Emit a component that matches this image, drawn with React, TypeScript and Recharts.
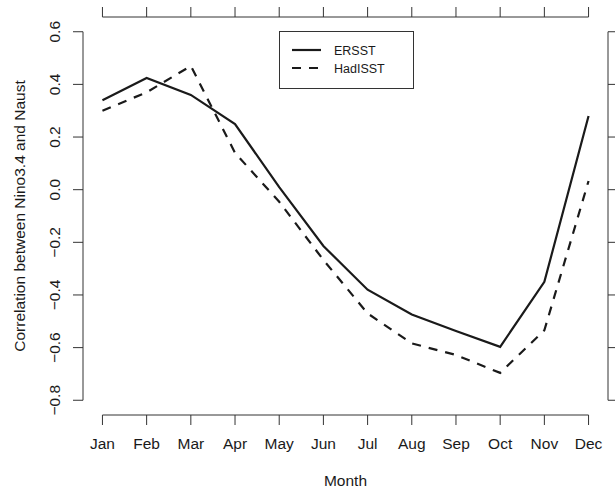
import { Legend, Line, LineChart, ReferenceLine, XAxis, YAxis } from "recharts";

const MONTHS = ["Jan", "Feb", "Mar", "Apr", "May", "Jun", "Jul", "Aug", "Sep", "Oct", "Nov", "Dec"];
const MONTH_NUM = [1, 2, 3, 4, 5, 6, 7, 8, 9, 10, 11, 12];
const ERSST = [0.34, 0.424, 0.36, 0.249, 0.01, -0.214, -0.38, -0.474, -0.537, -0.597, -0.35, 0.28];
const HADISST = [0.3, 0.37, 0.47, 0.14, -0.046, -0.267, -0.47, -0.584, -0.628, -0.696, -0.534, 0.033];
const Y_TICKS = [-0.8, -0.6, -0.4, -0.2, 0, 0.2, 0.4, 0.6];

// R-style 4% padding around xlim = c(1, 12), ylim = c(-0.8, 0.6)
const X_DOMAIN: [number, number] = [0.56, 12.44];
const Y_DOMAIN: [number, number] = [-0.856, 0.656];

const INK = "#1a1a1a";
const AXIS = "#333";
const FONT = "'Liberation Sans', Arial, Helvetica, sans-serif";

const data = MONTH_NUM.map((m, i) => ({ m, ersst: ERSST[i], hadisst: HADISST[i] }));

const fmtY = (v: number) => v.toFixed(1).replace("-", "\u2212");

function XTick({ x, y, payload }: any) {
  return (
    <text x={x} y={y + 24} textAnchor="middle" fontSize={15.5} fill={INK} fontFamily={FONT}>
      {MONTHS[payload.value - 1]}
    </text>
  );
}

function YTick({ x, y, payload }: any) {
  const bx = x - 12.5;
  return (
    <text
      x={bx}
      y={y}
      transform={`rotate(-90, ${bx}, ${y})`}
      textAnchor="middle"
      fontSize={15.5}
      fill={INK}
      fontFamily={FONT}
    >
      {fmtY(payload.value)}
    </text>
  );
}

// top/right axes: tick marks only, no labels
function NoLabel() {
  return <g />;
}

function LegendBox({ payload }: any) {
  return (
    <div
      style={{
        width: 135,
        height: 58,
        boxSizing: "border-box",
        border: `1px solid ${AXIS}`,
        background: "#fff",
        fontFamily: FONT,
      }}
    >
      <svg width={133} height={56} style={{ display: "block" }}>
        {(payload ?? []).map((p: any, i: number) => (
          <g key={p.value}>
            <line
              x1={12}
              x2={41}
              y1={18 + i * 18}
              y2={18 + i * 18}
              stroke={INK}
              strokeWidth={2.2}
              strokeDasharray={p.payload?.strokeDasharray}
            />
            <text x={54} y={22.5 + i * 18} fontSize={12.5} fill={INK}>
              {p.value}
            </text>
          </g>
        ))}
      </svg>
    </div>
  );
}

export default function App() {
  return (
    <div style={{ position: "absolute", left: 0, top: 0, width: 615, height: 488, background: "#fff" }}>
      <LineChart width={615} height={488} data={data} margin={{ top: 16, right: 0, bottom: 0, left: 0 }}>
        <XAxis
          dataKey="m"
          type="number"
          domain={X_DOMAIN}
          ticks={MONTH_NUM}
          axisLine={false}
          tickLine={{ stroke: AXIS }}
          tickSize={10}
          tickMargin={0}
          tick={<XTick />}
          height={73}
          label={{
            content: (p: any) => {
              const vb = p.viewBox;
              return (
                <text x={vb.x + vb.width / 2} y={vb.y + vb.height - 2} textAnchor="middle" fontSize={15.5} fill={INK} fontFamily={FONT}>
                  Month
                </text>
              );
            },
          }}
        />
        <XAxis
          xAxisId="top"
          orientation="top"
          dataKey="m"
          type="number"
          domain={X_DOMAIN}
          ticks={MONTH_NUM}
          axisLine={false}
          tickLine={{ stroke: AXIS }}
          tickSize={10}
          tick={<NoLabel />}
          height={1}
        />
        <YAxis
          type="number"
          domain={Y_DOMAIN}
          ticks={Y_TICKS}
          axisLine={false}
          tickLine={{ stroke: AXIS }}
          tickSize={10}
          tickMargin={0}
          tick={<YTick />}
          width={83}
          label={{
            content: (p: any) => {
              const vb = p.viewBox;
              const cy = vb.y + vb.height / 2;
              return (
                <text x={25} y={cy} transform={`rotate(-90, 25, ${cy})`} textAnchor="middle" fontSize={15.5} fill={INK} fontFamily={FONT}>
                  Correlation between Nino3.4 and Naust
                </text>
              );
            },
          }}
        />
        <YAxis
          yAxisId="right"
          orientation="right"
          dataKey="ersst"
          type="number"
          domain={Y_DOMAIN}
          ticks={Y_TICKS}
          interval={0}
          axisLine={false}
          tickLine={{ stroke: AXIS }}
          tickSize={10}
          tick={<NoLabel />}
          width={7}
        />
        <ReferenceLine segment={[{ x: 1, y: Y_DOMAIN[0] }, { x: 12, y: Y_DOMAIN[0] }]} stroke={AXIS} ifOverflow="visible" />
        <ReferenceLine segment={[{ x: 1, y: Y_DOMAIN[1] }, { x: 12, y: Y_DOMAIN[1] }]} stroke={AXIS} ifOverflow="visible" />
        <ReferenceLine segment={[{ x: X_DOMAIN[0], y: -0.8 }, { x: X_DOMAIN[0], y: 0.6 }]} stroke={AXIS} ifOverflow="visible" />
        <ReferenceLine segment={[{ x: X_DOMAIN[1], y: -0.8 }, { x: X_DOMAIN[1], y: 0.6 }]} stroke={AXIS} ifOverflow="visible" />
        <Line
          dataKey="ersst"
          name="ERSST"
          type="linear"
          stroke={INK}
          strokeWidth={2.2}
          dot={false}
          activeDot={false}
          isAnimationActive={false}
        />
        <Line
          dataKey="hadisst"
          name="HadISST"
          type="linear"
          stroke={INK}
          strokeWidth={2.2}
          strokeDasharray="9 8"
          dot={false}
          activeDot={false}
          isAnimationActive={false}
        />
        <Legend
          layout="horizontal"
          verticalAlign="middle"
          align="center"
          content={<LegendBox />}
          wrapperStyle={{ position: "absolute", left: 279, top: 31, width: 135, height: 58 }}
        />
      </LineChart>
    </div>
  );
}
